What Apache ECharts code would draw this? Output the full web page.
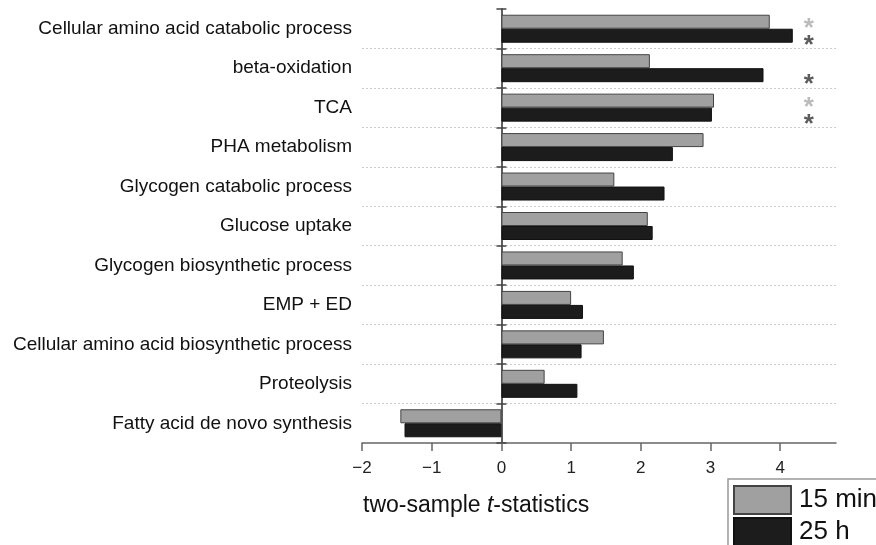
<!DOCTYPE html>
<html>
<head>
<meta charset="utf-8">
<script src="https://cdn.jsdelivr.net/npm/echarts@6/dist/echarts.min.js"></script>
<style>html,body{margin:0;padding:0;background:#fff}#c{width:876px;height:545px}</style>
</head>
<body>
<div id="c"></div>
<script>
var categories = [
  'Cellular amino acid catabolic process',
  'beta-oxidation',
  'TCA',
  'PHA metabolism',
  'Glycogen catabolic process',
  'Glucose uptake',
  'Glycogen biosynthetic process',
  'EMP + ED',
  'Cellular amino acid biosynthetic process',
  'Proteolysis',
  'Fatty acid de novo synthesis'
];
var values15min = [3.85, 2.13, 3.05, 2.90, 1.62, 2.10, 1.74, 1.00, 1.47, 0.62, -1.45];
var values25h   = [4.18, 3.76, 3.02, 2.46, 2.34, 2.17, 1.90, 1.17, 1.15, 1.09, -1.39];
var stars15min = ['Cellular amino acid catabolic process', 'TCA'];
var stars25h   = ['Cellular amino acid catabolic process', 'beta-oxidation', 'TCA'];
var xTicks = [-2, -1, 0, 1, 2, 3, 4];
var STAR_X = 4.41;

var FONT = 'Liberation Sans, Arial, sans-serif';
var legendCommon = {
  orient: 'vertical', left: 733, icon: 'rect',
  itemWidth: 57, itemHeight: 28, itemGap: 0, padding: 0,
  textStyle: { fontSize: 26, lineHeight: 28, color: '#111', padding: [0, 0, 0, 3] }
};
var chart = echarts.init(document.getElementById('c'));
chart.setOption({
  animation: false,
  textStyle: { fontFamily: FONT },
  grid: { left: 362, right: 40, top: 9, bottom: 102, outerBoundsMode: 'none', containLabel: false },
  xAxis: [{
    type: 'value', min: -2, max: 4.8,
    axisLine: { show: true, lineStyle: { color: '#666', width: 1.5 } },
    axisTick: { show: true, length: 8, lineStyle: { color: '#666', width: 1.5 }, customValues: xTicks },
    axisLabel: { color: '#222', fontSize: 17, margin: 17, customValues: xTicks,
      formatter: function (v) { return v < 0 ? '\u2212' + Math.abs(v) : String(v); } },
    splitLine: { show: false }
  }],
  yAxis: [{
    type: 'category', data: categories, inverse: true, position: 'left',
    axisLine: { show: true, onZero: true, lineStyle: { color: '#555', width: 1.5 } },
    axisTick: { show: true, length: 5, lineStyle: { color: '#444', width: 1.5 } },
    axisLabel: { color: '#111', fontSize: 19, margin: 10 },
    splitLine: { show: true, showMinLine: false, showMaxLine: false, lineStyle: { color: '#ccc', type: [2, 2], width: 1 } }
  }, {
    type: 'category', data: categories, inverse: true, position: 'right',
    axisLine: { show: true, onZero: true, onZeroAxisIndex: 0, lineStyle: { color: '#555', width: 1.5 } },
    axisTick: { show: true, length: 5, lineStyle: { color: '#444', width: 1.5 } },
    axisLabel: { show: false },
    splitLine: { show: false }
  }],
  legend: [
    Object.assign({}, legendCommon, { data: ['15 min'], top: 485 }),
    Object.assign({}, legendCommon, { data: ['25 h'], top: 517 })
  ],
  series: [{
    name: '15 min', type: 'bar', data: values15min, barWidth: 14, barGap: '0%',
    itemStyle: { color: '#a0a0a0', borderColor: '#444', borderWidth: 1 }
  }, {
    name: '25 h', type: 'bar', data: values25h, barWidth: 14, barGap: '0%',
    itemStyle: { color: '#1c1c1c', borderColor: '#111', borderWidth: 1 }
  }, {
    name: 'star15', type: 'scatter', symbol: 'circle', symbolSize: 1,
    itemStyle: { color: 'rgba(0,0,0,0)' },
    data: stars15min.map(function (c) { return [STAR_X, c]; }),
    label: { show: true, position: 'inside', formatter: '*', color: '#aaa', fontSize: 26, fontWeight: 'bold', offset: [0, 0] }
  }, {
    name: 'star25', type: 'scatter', symbol: 'circle', symbolSize: 1,
    itemStyle: { color: 'rgba(0,0,0,0)' },
    data: stars25h.map(function (c) { return [STAR_X, c]; }),
    label: { show: true, position: 'inside', formatter: '*', color: '#333', fontSize: 26, fontWeight: 'bold', offset: [0, 17] }
  }],
  graphic: [{
    type: 'rect', silent: true,
    shape: { x: 728, y: 479, width: 160, height: 80 },
    style: { fill: 'none', stroke: '#999', lineWidth: 1.5 }
  }, {
    type: 'text', left: 363, top: 494,
    style: {
      text: 'two-sample {i|t}-statistics', fill: '#111', fontSize: 23, fontFamily: FONT,
      rich: { i: { fontStyle: 'italic', fontSize: 23, fontFamily: FONT, fill: '#111' } }
    }
  }]
});
</script>
</body>
</html>
